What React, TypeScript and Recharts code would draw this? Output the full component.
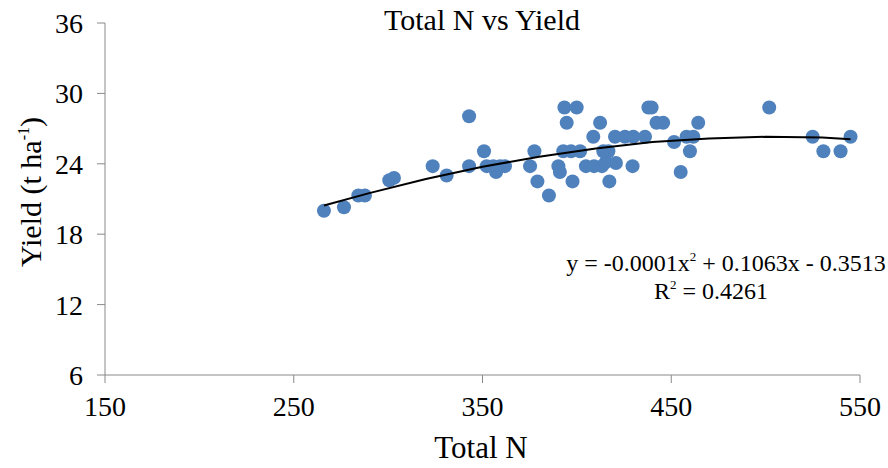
import React from "react";
import { ScatterChart, Scatter, XAxis, YAxis } from "recharts";

// values
const totalN = [
  266, 276.6, 284.2, 287.7, 300.6, 303.1, 323.6, 331, 342.9, 342.9,
  350.8, 352.2, 355.7, 359.3, 361.9, 357.2, 375.2, 377.5, 379.1, 385.2,
  390.2, 391, 393.4, 399.9, 394.6, 392.8, 396.9, 401.7, 397.7, 404.8,
  409.1, 413.3, 408.7, 412.3, 414, 416.7, 415.4, 417.2, 420.7, 420.2,
  425.5, 429.9, 436.1, 429.5, 437.9, 439.6, 442.2, 445.7, 451.5, 455,
  458.1, 461.7, 459.9, 464.3, 501.9, 524.9, 530.6, 539.7, 545,
];
const yieldT = [
  20.0, 20.3, 21.3, 21.3, 22.6, 22.8, 23.8, 23.0, 28.05, 23.8,
  25.07, 23.8, 23.8, 23.8, 23.8, 23.3, 23.8, 25.07, 22.5, 21.3,
  23.8, 23.3, 28.8, 28.8, 27.5, 25.07, 25.07, 25.07, 22.5, 23.8,
  23.8, 23.8, 26.3, 27.5, 25.07, 25.07, 24.15, 22.5, 24.07, 26.3,
  26.3, 26.3, 26.3, 23.8, 28.8, 28.8, 27.5, 27.5, 25.86, 23.3,
  26.3, 26.3, 25.07, 27.5, 28.8, 26.3, 25.07, 25.07, 26.3,
];

// polynomial trendline
const trendN = [266, 290, 320, 350, 380, 410, 440, 470, 500, 530, 545];
const trendYield = [20.45, 21.5, 22.7, 23.75, 24.6, 25.3, 25.85, 26.15, 26.3, 26.25, 26.1];

const xTicks = [150, 250, 350, 450, 550];
const yTicks = [6, 12, 18, 24, 30, 36];

const points = totalN.map((n, i) => ({ n, y: yieldT[i] }));
const trend = trendN.map((n, i) => ({ n, y: trendYield[i] }));

const SERIF = "'Liberation Serif', 'Times New Roman', serif";
const AXIS = "#898989";

const Dot = (props: any) => <circle cx={props.cx} cy={props.cy} r={7} fill="#4F81BD" />;

export default function App() {
  return (
    <div style={{ position: "absolute", left: 0, top: 0, width: 888, height: 468, background: "#fff" }}>
      <ScatterChart width={888} height={468} margin={{ top: 23, right: 28, bottom: 0, left: 0 }}>
        <XAxis
          type="number"
          dataKey="n"
          domain={[150, 550]}
          ticks={xTicks}
          height={93}
          stroke={AXIS}
          tickSize={8}
          tickMargin={13}
          tick={{ fill: "#000", fontSize: 28, fontFamily: SERIF }}
        />
        <YAxis
          type="number"
          dataKey="y"
          domain={[6, 36]}
          ticks={yTicks}
          width={105}
          stroke={AXIS}
          tickSize={8}
          tickMargin={14}
          tick={{ fill: "#000", fontSize: 28, fontFamily: SERIF }}
        />
        <Scatter data={points} shape={Dot} isAnimationActive={false} />
        <Scatter
          data={trend}
          line={{ stroke: "#000", strokeWidth: 2 }}
          lineType="joint"
          shape={() => null}
          isAnimationActive={false}
        />
      </ScatterChart>
      <svg
        width={888}
        height={468}
        style={{ position: "absolute", left: 0, top: 0, pointerEvents: "none" }}
        fontFamily={SERIF}
      >
        <text x={482} y={30} textAnchor="middle" fontSize={30}>
          Total N vs Yield
        </text>
        <text x={481} y={458} textAnchor="middle" fontSize={31}>
          Total N
        </text>
        <text transform="translate(41,192) rotate(-90)" textAnchor="middle" fontSize={30}>
          Yield (t ha
          <tspan fontSize={16} dy={-12}>-1</tspan>
          <tspan dy={12}>)</tspan>
        </text>
        <text x={726} y={271} textAnchor="middle" fontSize={24}>
          y = -0.0001x<tspan fontSize={13} dy={-10}>2</tspan>
          <tspan dy={10}> + 0.1063x - 0.3513</tspan>
        </text>
        <text x={711} y={299} textAnchor="middle" fontSize={24}>
          R<tspan fontSize={13} dy={-10}>2</tspan>
          <tspan dy={10}> = 0.4261</tspan>
        </text>
      </svg>
    </div>
  );
}
